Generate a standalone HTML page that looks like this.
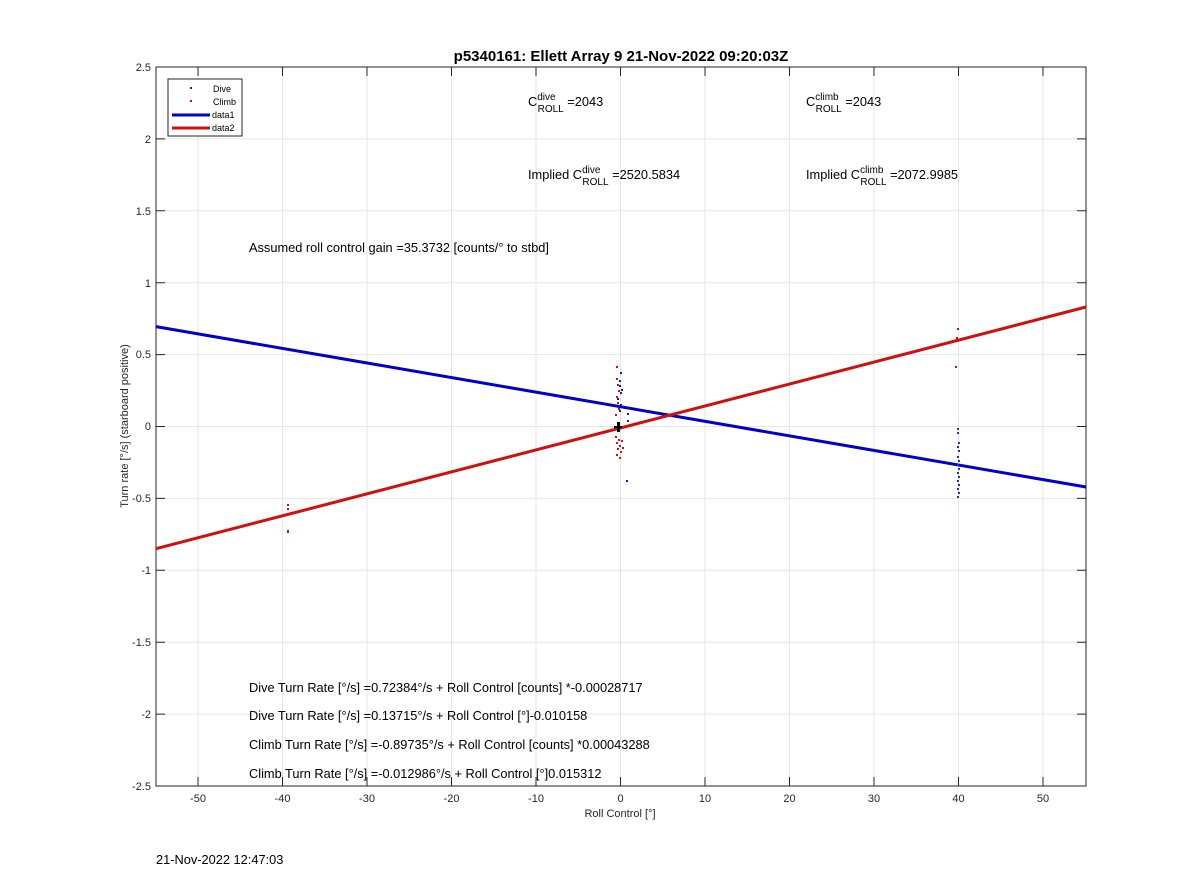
<!DOCTYPE html>
<html><head><style>body{margin:0;background:#fff}svg{display:block;font-family:"Liberation Sans",sans-serif}</style></head><body>
<svg width="1200" height="885" viewBox="0 0 1200 885" xmlns="http://www.w3.org/2000/svg">
<rect width="1200" height="885" fill="#fff"/>
<g stroke="#e6e6e6" stroke-width="1">
<line x1="198" y1="67" x2="198" y2="786"/><line x1="282.5" y1="67" x2="282.5" y2="786"/><line x1="367" y1="67" x2="367" y2="786"/><line x1="451.5" y1="67" x2="451.5" y2="786"/><line x1="536" y1="67" x2="536" y2="786"/><line x1="620.5" y1="67" x2="620.5" y2="786"/><line x1="705" y1="67" x2="705" y2="786"/><line x1="789.5" y1="67" x2="789.5" y2="786"/><line x1="874" y1="67" x2="874" y2="786"/><line x1="958.5" y1="67" x2="958.5" y2="786"/><line x1="1043" y1="67" x2="1043" y2="786"/>
<line x1="156" y1="138.9" x2="1086" y2="138.9"/><line x1="156" y1="210.8" x2="1086" y2="210.8"/><line x1="156" y1="282.7" x2="1086" y2="282.7"/><line x1="156" y1="354.6" x2="1086" y2="354.6"/><line x1="156" y1="426.5" x2="1086" y2="426.5"/><line x1="156" y1="498.4" x2="1086" y2="498.4"/><line x1="156" y1="570.3" x2="1086" y2="570.3"/><line x1="156" y1="642.2" x2="1086" y2="642.2"/><line x1="156" y1="714.1" x2="1086" y2="714.1"/>
</g>
<rect x="156" y="67" width="930" height="719" fill="none" stroke="#262626" stroke-width="1"/>
<g stroke="#262626">
<path d="M198 786v-9M282.5 786v-9M367 786v-9M451.5 786v-9M536 786v-9M620.5 786v-9M705 786v-9M789.5 786v-9M874 786v-9M958.5 786v-9M1043 786v-9"/>
<path d="M198 67v9M282.5 67v9M367 67v9M451.5 67v9M536 67v9M620.5 67v9M705 67v9M789.5 67v9M874 67v9M958.5 67v9M1043 67v9"/>
<path d="M156 67h9M156 138.9h9M156 210.8h9M156 282.7h9M156 354.6h9M156 426.5h9M156 498.4h9M156 570.3h9M156 642.2h9M156 714.1h9M156 786h9"/>
<path d="M1086 67h-9M1086 138.9h-9M1086 210.8h-9M1086 282.7h-9M1086 354.6h-9M1086 426.5h-9M1086 498.4h-9M1086 570.3h-9M1086 642.2h-9M1086 714.1h-9M1086 786h-9"/>
</g>
<g font-size="11" fill="#262626" text-anchor="middle">
<text x="198" y="802">-50</text><text x="282.5" y="802">-40</text><text x="367" y="802">-30</text><text x="451.5" y="802">-20</text><text x="536" y="802">-10</text><text x="620.5" y="802">0</text><text x="705" y="802">10</text><text x="789.5" y="802">20</text><text x="874" y="802">30</text><text x="958.5" y="802">40</text><text x="1043" y="802">50</text>
</g>
<g font-size="11" fill="#262626" text-anchor="end">
<text x="151" y="71">2.5</text><text x="151" y="143">2</text><text x="151" y="215">1.5</text><text x="151" y="287">1</text><text x="151" y="358">0.5</text><text x="151" y="430">0</text><text x="151" y="502">-0.5</text><text x="151" y="574">-1</text><text x="151" y="646">-1.5</text><text x="151" y="718">-2</text><text x="151" y="790">-2.5</text>
</g>
<text x="620" y="817" font-size="11" text-anchor="middle" fill="#262626">Roll Control [°]</text>
<text transform="translate(128,426) rotate(-90)" font-size="11" text-anchor="middle" fill="#262626">Turn rate [°/s] (starboard positive)</text>
<text x="621" y="61" font-size="15" font-weight="bold" text-anchor="middle" fill="#000">p5340161: Ellett Array 9 21-Nov-2022 09:20:03Z</text>
<line x1="156" y1="326.6" x2="1086" y2="487" stroke="#0000c8" stroke-width="3"/>
<line x1="156" y1="548.7" x2="1086" y2="307" stroke="#d01010" stroke-width="3"/>
<g fill="#1020c0">
<rect x="620" y="372" width="2" height="2"/><rect x="619" y="385" width="2" height="2"/><rect x="620" y="392" width="2" height="2"/><rect x="617" y="398" width="2" height="2"/><rect x="620" y="404" width="2" height="2"/><rect x="619" y="410" width="2" height="2"/><rect x="626" y="480" width="2" height="2"/><rect x="627" y="413" width="2" height="2"/><rect x="627" y="420" width="2" height="2"/><rect x="619" y="380" width="2" height="2"/><rect x="621" y="389" width="2" height="2"/>
</g>
<g fill="#2030c0">
<rect x="957" y="428" width="2" height="2"/><rect x="957" y="432" width="2" height="2"/><rect x="958" y="442" width="2" height="2"/><rect x="957" y="446" width="2" height="2"/><rect x="958" y="450" width="2" height="2"/><rect x="957" y="456" width="2" height="2"/><rect x="958" y="460" width="2" height="2"/><rect x="957" y="464" width="2" height="2"/><rect x="958" y="468" width="2" height="2"/><rect x="957" y="472" width="2" height="2"/><rect x="958" y="476" width="2" height="2"/><rect x="957" y="480" width="2" height="2"/><rect x="958" y="484" width="2" height="2"/><rect x="957" y="488" width="2" height="2"/><rect x="958" y="492" width="2" height="2"/><rect x="957" y="496" width="2" height="2"/>
</g>
<g fill="#d01010">
<rect x="616" y="366" width="2" height="2"/><rect x="616" y="378" width="2" height="2"/><rect x="617" y="384" width="2" height="2"/><rect x="618" y="390" width="2" height="2"/><rect x="616" y="396" width="2" height="2"/><rect x="617" y="402" width="2" height="2"/><rect x="618" y="408" width="2" height="2"/><rect x="615" y="414" width="2" height="2"/>
<rect x="615" y="436" width="2" height="2"/><rect x="618" y="439" width="2" height="2"/><rect x="616" y="442" width="2" height="2"/><rect x="619" y="445" width="2" height="2"/><rect x="617" y="448" width="2" height="2"/><rect x="620" y="451" width="2" height="2"/><rect x="616" y="454" width="2" height="2"/><rect x="619" y="457" width="2" height="2"/><rect x="621" y="440" width="2" height="2"/><rect x="622" y="447" width="2" height="2"/>
<rect x="957" y="328" width="2" height="2"/><rect x="956" y="337" width="2" height="2"/><rect x="955" y="366" width="2" height="2"/><rect x="287" y="504" width="2" height="2"/><rect x="287" y="508" width="2" height="2"/><rect x="287" y="530" width="2" height="3"/>
</g>
<g fill="#000"><rect x="617" y="422" width="3" height="10"/><rect x="614" y="426" width="8" height="2"/></g>
<rect x="168" y="79" width="74" height="57" fill="#fff" stroke="#262626" stroke-width="1"/>
<rect x="190" y="87" width="2" height="2" fill="#1020c0"/><rect x="190" y="100" width="2" height="2" fill="#d01010"/>
<line x1="172" y1="115" x2="210" y2="115" stroke="#0000c8" stroke-width="3"/>
<line x1="172" y1="128" x2="210" y2="128" stroke="#d01010" stroke-width="3"/>
<g font-size="9" fill="#000"><text x="213" y="92">Dive</text><text x="213" y="105">Climb</text><text x="212" y="118">data1</text><text x="212" y="131">data2</text></g>
<g font-size="12.8" fill="#000">
<text x="528" y="106">C<tspan font-size="10" dy="-6">dive</tspan><tspan font-size="10" dx="-18" dy="12">ROLL</tspan><tspan dy="-6"> =2043</tspan></text>
<text x="806" y="106">C<tspan font-size="10" dy="-6">climb</tspan><tspan font-size="10" dx="-23" dy="12">ROLL</tspan><tspan dy="-6"> =2043</tspan></text>
<text x="528" y="179">Implied C<tspan font-size="10" dy="-6">dive</tspan><tspan font-size="10" dx="-18" dy="12">ROLL</tspan><tspan dy="-6"> =2520.5834</tspan></text>
<text x="806" y="179">Implied C<tspan font-size="10" dy="-6">climb</tspan><tspan font-size="10" dx="-23" dy="12">ROLL</tspan><tspan dy="-6"> =2072.9985</tspan></text>
<text x="249" y="252">Assumed roll control gain =35.3732 [counts/° to stbd]</text>
<text x="249" y="692">Dive Turn Rate [°/s] =0.72384°/s + Roll Control [counts] *-0.00028717</text>
<text x="249" y="720">Dive Turn Rate [°/s] =0.13715°/s + Roll Control [°]-0.010158</text>
<text x="249" y="749">Climb Turn Rate [°/s] =-0.89735°/s + Roll Control [counts] *0.00043288</text>
<text x="249" y="778">Climb Turn Rate [°/s] =-0.012986°/s + Roll Control [°]0.015312</text>
<text x="156" y="864">21-Nov-2022 12:47:03</text>
</g>
</svg>
</body></html>
